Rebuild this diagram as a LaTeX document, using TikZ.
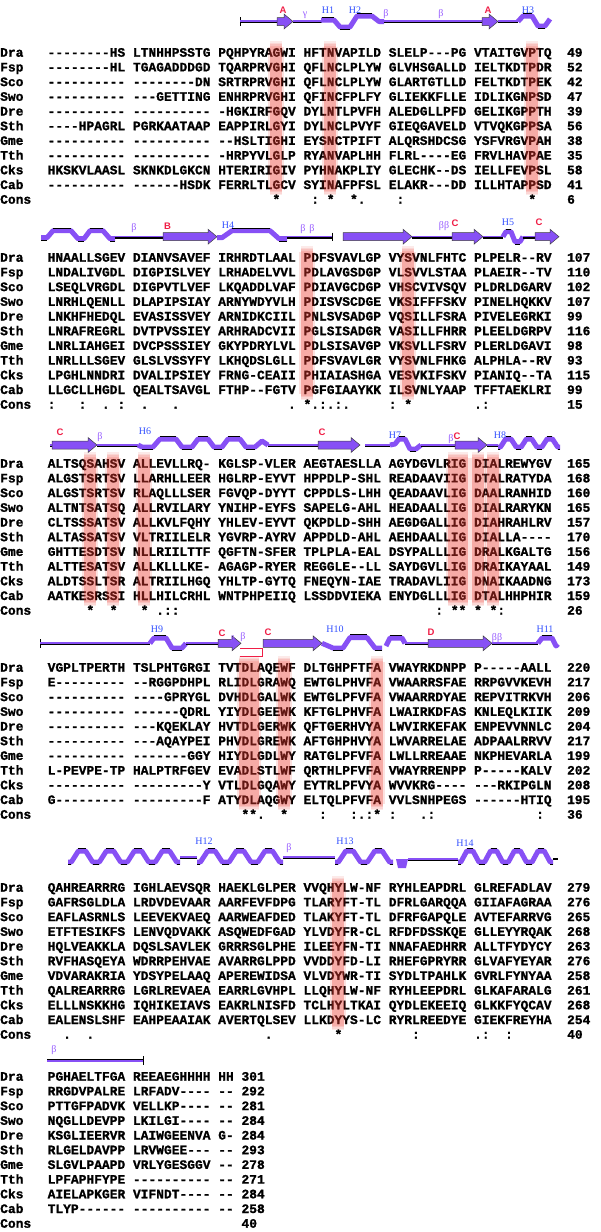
\documentclass[tikz,border=0pt]{standalone}
\usepackage{fontspec}
\setmonofont{Liberation Mono}[BoldFeatures={FakeBold=1.2}]
\newfontfamily\sslabfont{Liberation Sans}
\newfontfamily\ssserif{Liberation Serif}
\definecolor{ssc}{RGB}{135,80,245}
\definecolor{ssred}{RGB}{240,30,70}
\definecolor{ssblue}{RGB}{50,80,255}
\definecolor{sspur}{RGB}{150,90,255}
\definecolor{barc}{RGB}{235,55,45}
\newcommand\seqf{\ttfamily\bfseries\fontsize{12.92}{14}\selectfont}
\newcommand\Sp[1]{\kern#1\fontcharwd\font`\0\relax}
\tikzset{
 seq/.style={anchor=base west, inner sep=0pt, font=\seqf},
 lab/.style={anchor=base west, inner sep=0pt, font=\seqf},
 hx/.style={draw=ssc, line width=5pt, line join=round},
 redl/.style={text=ssred, font=\sslabfont\bfseries\fontsize{9.5}{10}\selectfont, inner sep=0pt},
 bluel/.style={text=ssblue, font=\ssserif\fontsize{10}{10}\selectfont, inner sep=0pt},
 purl/.style={text=sspur, font=\ssserif\fontsize{10}{10}\selectfont, inner sep=0pt},
}
\newcommand\SRow[4]{\node[lab] (l#1) at (0,{\Y+#3*14.7+3.7}) {#2};\node[seq] (s#1) at (47.5,{\Y+#3*14.7+3.7}) {#4};}
\newcommand\hlt[3]{\draw[black,line width=1pt] (#1,#3) -- (#2,#3);}
\newcommand\coil[3]{\draw[black,line width=2.6pt] (#1,#3+0.5) -- (#2,#3+0.5); \draw[ssc,line width=1.6pt] (#1,#3-0.3) -- (#2,#3-0.3);}
\newcommand\strand[3]{\filldraw[fill=ssc,draw=black!75,line width=0.5pt] (#1,#3-4) -- ({#2-9},#3-4) -- ({#2-9},#3-7.5) -- (#2,#3) -- ({#2-9},#3+7.5) -- ({#2-9},#3+4) -- (#1,#3+4) -- cycle;}
\newcommand\wave[5]{%
 \draw[hx] (#1,#4) \foreach \i in {1,...,#2}{ -- ++({0.12*#3},0) -- ++({0.25*#3},{-#5}) -- ++({0.26*#3},0) -- ++({0.25*#3},#5) -- ++({0.12*#3},0)};
 \foreach \i in {1,...,#2}{%
  \draw[black,line width=1.1pt] ({#1+(\i-1+0.37)*#3},{#4-#5-2.6}) -- ++({0.26*#3},0);
  \draw[black,line width=1.1pt] ({#1+(\i-1)*#3},{#4+2.6}) -- ++({0.12*#3},0);
  \draw[black,line width=1.1pt] ({#1+(\i-1+0.88)*#3},{#4+2.6}) -- ++({0.12*#3},0);}%
}
\newcommand\hlbar[3]{%
 \pgfmathsetmacro\xa{47.5+7.75*(11*#1+#2)-2.2}%
 \pgfmathsetmacro\xb{47.5+7.75*(11*#1+#2+#3)+2.2}%
 \pgfmathsetmacro\ya{\Y-12}%
 \pgfmathsetmacro\yb{\Y+9*14.7+10}%
 \fill[barc,opacity=0.42] (\xa,\ya+6) rectangle (\xb,\yb-6);
 \fill[barc,opacity=0.15] (\xa-2,\ya+6) rectangle (\xa,\yb-6);
 \fill[barc,opacity=0.15] (\xb,\ya+6) rectangle (\xb+2,\yb-6);
 \foreach \k in {1,2,3,4}{\pgfmathsetmacro\op{0.1*\k}%
  \fill[barc,opacity=\op] (\xa,{\ya+1.5*(\k-1)}) rectangle (\xb,{\ya+1.5*\k});
  \fill[barc,opacity=\op] (\xa,{\yb-1.5*(\k-1)}) rectangle (\xb,{\yb-1.5*\k});}%
}
\begin{document}
\begin{tikzpicture}[x=1pt,y=-1pt]
\fill[white] (0,0) rectangle (600,1232);
\useasboundingbox (0,0) rectangle (600,1232);
%================ BLOCK 1
\def\Y{53}
\SRow{b1a}{Dra}{0}{--------HS LTNHHPSSTG PQHPYRAGWI HFTNVAPILD SLELP---PG VTAITGVPTQ~~49}
\SRow{b1b}{Fsp}{1}{--------HL TGAGADDDGD TQARPRVGHI QFLNCLPLYW GLVHSGALLD IELTKDTPDR~~52}
\SRow{b1c}{Sco}{2}{---------- --------DN SRTRPRVGHI QFLNCLPLYW GLARTGTLLD FELTKDTPEK~~42}
\SRow{b1d}{Swo}{3}{---------- ---GETTING ENHRPRVGHI QFINCFPLFY GLIEKKFLLE IDLIKGNPSD~~47}
\SRow{b1e}{Dre}{4}{---------- ---------- -HGKIRFGQV DYLNTLPVFH ALEDGLLPFD GELIKGPPTH~~39}
\SRow{b1f}{Sth}{5}{----HPAGRL PGRKAATAAP EAPPIRLGYI DYLNCLPVYF GIEQGAVELD VTVQKGPPSA~~56}
\SRow{b1g}{Gme}{6}{---------- ---------- --HSLTIGHI EYSNCTPIFT ALQRSHDCSG YSFVRGVPAH~~38}
\SRow{b1h}{Tth}{7}{---------- ---------- -HRPYVLGLP RYANVAPLHH FLRL----EG FRVLHAVPAE~~35}
\SRow{b1i}{Cks}{8}{HKSKVLAASL SKNKDLGKCN HTERIRIGIV PYHNAKPLIY GLECHK--DS IELLFEVPSL~~58}
\SRow{b1j}{Cab}{9}{---------- ------HSDK FERRLTLGCV SYINAFPFSL ELAKR---DD ILLHTAPPSD~~41}
\SRow{b1k}{Cons}{10}{\Sp{29}*\Sp{4}:\Sp{1}*\Sp{2}*.\Sp{4}:\Sp{16}*\Sp{4}6}
\hlbar{2}{7}{1}\hlbar{3}{3}{1}\hlbar{5}{7}{1}
% SS block 1
\draw[black,line width=1pt] (240,17) -- (240,26);
\coil{240}{277}{21.5}
\strand{277}{293}{21.5}
\coil{293}{322}{21.5}
\draw[hx] (321,20) -- (334,20) -- (340,27) -- (350,27) -- (357,16) -- (372,16) -- (379,21.5) -- (384,21.5);
\hlt{322}{334}{17.4}\hlt{340}{350}{29.6}\hlt{357}{372}{13.4}
\coil{384}{482}{21.5}
\strand{482}{498}{21.5}
\coil{498}{518}{21.5}
\draw[hx] (518,21.5) -- (523,16) -- (532,16) -- (538,26) -- (545,26) -- (550,19);
\hlt{523}{532}{13.4}\hlt{538}{545}{28.6}
\node[redl] (t1) at (283,10) {A};
\node[purl] (t2) at (305,15) {γ};
\node[bluel] (t3) at (328,10) {H1};
\node[bluel] (t4) at (355,10) {H2};
\node[purl] (t5) at (386,14) {β};
\node[purl] (t6) at (441,14) {β};
\node[redl] (t7) at (488,10) {A};
\node[bluel] (t8) at (528,10) {H3};
%================ BLOCK 2
\def\Y{258}
\SRow{b2a}{Dra}{0}{HNAALLSGEV DIANVSAVEF IRHRDTLAAL PDFSVAVLGP VYSVNLFHTC PLPELR--RV~~107}
\SRow{b2b}{Fsp}{1}{LNDALIVGDL DIGPISLVEY LRHADELVVL PDLAVGSDGP VLSVVLSTAA PLAEIR--TV~~110}
\SRow{b2c}{Sco}{2}{LSEQLVRGDL DIGPVTLVEF LKQADDLVAF PDIAVGCDGP VHSCVIVSQV PLDRLDGARV~~102}
\SRow{b2d}{Swo}{3}{LNRHLQENLL DLAPIPSIAY ARNYWDYVLH PDISVSCDGE VKSIFFFSKV PINELHQKKV~~107}
\SRow{b2e}{Dre}{4}{LNKHFHEDQL EVASISSVEY ARNIDKCIIL PNLSVSADGP VQSILLFSRA PIVELEGRKI~~99}
\SRow{b2f}{Sth}{5}{LNRAFREGRL DVTPVSSIEY ARHRADCVII PGLSISADGR VASILLFHRR PLEELDGRPV~~116}
\SRow{b2g}{Gme}{6}{LNRLIAHGEI DVCPSSSIEY GKYPDRYLVL PDLSISAVGP VKSVLLFSRV PLERLDGAVI~~98}
\SRow{b2h}{Tth}{7}{LNRLLLSGEV GLSLVSSYFY LKHQDSLGLL PDFSVAVLGR VYSVNLFHKG ALPHLA--RV~~93}
\SRow{b2i}{Cks}{8}{LPGHLNNDRI DVALIPSIEY FRNG-CEAII PHIAIASHGA VESVKIFSKV PIANIQ--TA~~115}
\SRow{b2j}{Cab}{9}{LLGCLLHGDL QEALTSAVGL FTHP--FGTV PGFGIAAYKK ILSVNLYAAP TFFTAEKLRI~~99}
\SRow{b2k}{Cons}{10}{:\Sp{3}:\Sp{2}.\Sp{1}:\Sp{2}.\Sp{3}.\Sp{14}.\Sp{1}*.:.:.\Sp{5}:\Sp{1}*\Sp{8}.:\Sp{10}15}
\hlbar{3}{0}{1}\hlbar{4}{2}{1}
% SS block 2
\draw[hx] (41,237.7) -- (47,237.7) -- (53,230.7) -- (71,230.7) -- (78,238.7) -- (84,238.7) -- (90,230.7) -- (103,230.7) -- (110,238.7) -- (115,238.7);
\hlt{53}{71}{228.1}\hlt{90}{103}{228.1}\hlt{78}{84}{241.3}\hlt{41}{47}{240.3}\hlt{110}{115}{241.3}
\coil{115}{163}{236.7}
\strand{163}{217}{236.7}
\draw[hx] (217,237.7) -- (222,237.7) -- (232,230.7) -- (270,230.7) -- (279,238.7) -- (287,238.7);
\hlt{232}{270}{228.1}\hlt{279}{287}{241.3}
\coil{287}{332}{236.7}
\draw[black,line width=1pt] (332,232.7) -- (332,240.7);
\strand{343}{412}{236.7}
\coil{412}{452}{236.7}
\strand{452}{483}{236.7}
\coil{483}{503}{236.7}
\draw[hx] (503,236.7) -- (506,231.7) -- (511,231.7) -- (515,241.7) -- (520,241.7) -- (523,236.7);
\hlt{506}{511}{229.1}\hlt{515}{520}{244.3}
\coil{523}{535}{236.7}
\strand{535}{559}{236.7}
\node[purl] (t9) at (134,228) {β};
\node[redl] (t10) at (167.5,226.5) {B};
\node[bluel] (t11) at (228,225) {H4};
\node[purl] (t12) at (303,229) {β};
\node[purl] (t13) at (312,229) {β};
\node[purl] (t14) at (444,226) {ββ};
\node[redl] (t15) at (455,223) {C};
\node[bluel] (t16) at (508,222) {H5};
\node[redl] (t17) at (539,222) {C};
%================ BLOCK 3
\def\Y{464}
\SRow{b3a}{Dra}{0}{ALTSQSAHSV ALLEVLLRQ- KGLSP-VLER AEGTAESLLA AGYDGVLRIG DIALREWYGV~~165}
\SRow{b3b}{Fsp}{1}{ALGSTSRTSV LLARHLLEER HGLRP-EYVT HPPDLP-SHL READAAVIIG DTALRATYDA~~168}
\SRow{b3c}{Sco}{2}{ALGSTSRTSV RLAQLLLSER FGVQP-DYYT CPPDLS-LHH QEADAAVLIG DAALRANHID~~160}
\SRow{b3d}{Swo}{3}{ALTNTSATSQ ALLRVILARY YNIHP-EYFS SAPELG-AHL HEADAALLIG DIALRARYKN~~165}
\SRow{b3e}{Dre}{4}{CLTSSSATSV ALLKVLFQHY YHLEV-EYVT QKPDLD-SHH AEGDGALLIG DIAHRAHLRV~~157}
\SRow{b3f}{Sth}{5}{ALTASSATSV VLTRIILELR YGVRP-AYRV APPDLD-AHL AEHDAALLIG DIALLA----~~170}
\SRow{b3g}{Gme}{6}{GHTTESDTSV NLLRIILTTF QGFTN-SFER TPLPLA-EAL DSYPALLLIG DRALKGALTG~~156}
\SRow{b3h}{Tth}{7}{ALTTESATSV ALLKLLLKE- AGAGP-RYER REGGLE--LL SAYDGVLLIG DRAIKAYAAL~~149}
\SRow{b3i}{Cks}{8}{ALDTSSLTSR ALTRIILHGQ YHLTP-GYTQ FNEQYN-IAE TRADAVLIIG DNAIKAADNG~~173}
\SRow{b3j}{Cab}{9}{AATKESRSSI HLLHILCRHL WNTPHPEIIQ LSSDDVIEKA ENYDGLLLIG DTALHHPHIR~~159}
\SRow{b3k}{Cons}{10}{\Sp{5}*\Sp{2}*\Sp{3}*\Sp{1}.::\Sp{33}:\Sp{1}**\Sp{1}*\Sp{1}*:\Sp{8}26}
\hlbar{0}{5}{1}\hlbar{0}{8}{1}\hlbar{1}{1}{1}\hlbar{4}{8}{2}\hlbar{5}{0}{1}\hlbar{5}{2}{1}
% SS block 3
\coil{50}{60}{445}
\strand{52}{97}{445}
\coil{97}{138}{445}
\draw[hx] (138,445) -- (142,447) -- (153,447) -- (160,439) -- (176,439) -- (182,447) -- (192,447) -- (198,439) -- (208,439) -- (214,447) -- (222,447) -- (228,439) -- (240,439) -- (246,447) -- (255,447) -- (262,441) -- (268,445);
\hlt{160}{176}{436.4}\hlt{198}{208}{436.4}\hlt{228}{240}{436.4}
\hlt{142}{153}{449.6}\hlt{182}{192}{449.6}\hlt{214}{222}{449.6}\hlt{246}{255}{449.6}
\coil{268}{318}{445}
\strand{318}{360}{445}
\coil{365}{390}{445}
\draw[hx] (390,445) -- (395,444) -- (399,439) -- (405,439) -- (410,449) -- (416,449) -- (421,445);
\hlt{399}{405}{436.4}\hlt{410}{416}{451.6}
\coil{421}{455}{445}
\strand{455}{487}{445}
\coil{487}{498}{445}
\wave{498}{3}{20.7}{447}{8}
\node[redl] (t18) at (60,432) {C};
\node[purl] (t19) at (100,437) {β};
\node[bluel] (t20) at (145,431) {H6};
\node[redl] (t21) at (322,432) {C};
\node[bluel] (t22) at (395,435) {H7};
\node[purl] (t23) at (451,439) {β};
\node[redl] (t24) at (457,436) {C};
\node[bluel] (t25) at (500,435) {H8};
%================ BLOCK 4
\def\Y{668}
\SRow{b4a}{Dra}{0}{VGPLTPERTH TSLPHTGRGI TVTDLAQEWF DLTGHPFTFA VWAYRKDNPP P-----AALL~~220}
\SRow{b4b}{Fsp}{1}{E--------- --RGGPDHPL RLIDLGRAWQ EWTGLPHVFA VWAARRSFAE RRPGVVKEVH~~217}
\SRow{b4c}{Sco}{2}{---------- ----GPRYGL DVHDLGALWK EWTGLPFVFA VWAARRDYAE REPVITRKVH~~206}
\SRow{b4d}{Swo}{3}{---------- ------QDRL YIYDLGEEWK KFTGLPHVFA LWAIRKDFAS KNLEQLKIIK~~209}
\SRow{b4e}{Dre}{4}{---------- ---KQEKLAY HVTDLGERWK QFTGERHVYA LWVIRKEFAK ENPEVVNNLC~~204}
\SRow{b4f}{Sth}{5}{---------- ---AQAYPEI PHVDLGREWK AFTGHPHVYA LWVARRELAE ADPAALRRVV~~217}
\SRow{b4g}{Gme}{6}{---------- -------GGY HIYDLGDLWY RATGLPFVFA LWLLRREAAE NKPHEVARLA~~199}
\SRow{b4h}{Tth}{7}{L-PEVPE-TP HALPTRFGEV EVADLSTLWF QRTHLPFVFA VWAYRRENPP P-----KALV~~202}
\SRow{b4i}{Cks}{8}{---------- ---------Y VTLDLGQAWY EYTRLPFVYA WVVKRG---- ---RKIPGLN~~208}
\SRow{b4j}{Cab}{9}{G--------- ---------F ATYDLAQGWY ELTQLPFVFA VVLSNHPEGS ------HTIQ~~195}
\SRow{b4k}{Cons}{10}{\Sp{25}**.\Sp{2}*\Sp{4}:\Sp{3}:.:*\Sp{1}:\Sp{3}.:\Sp{13}:\Sp{3}36}
\hlbar{2}{3}{2}\hlbar{2}{8}{1}\hlbar{3}{9}{1}
% SS block 4
\draw[black,line width=1pt] (40,639) -- (40,648);
\coil{40}{150}{643.3}
\draw[hx] (150,643.3) -- (154,638) -- (166,638) -- (172,648) -- (182,648) -- (186,643.3);
\hlt{154}{166}{635.4}\hlt{172}{182}{650.6}
\coil{186}{218}{643.3}
\strand{218}{241}{643.3}
\draw[ssred,line width=1pt] (240,648.5) -- (262.5,648.5) -- (262.5,656.5) -- (240,656.5);
\strand{263}{322}{643.3}
\draw[hx] (322,643.3) -- (333,648) -- (343,648) -- (350,637.5) -- (367,637.5) -- (375,648) -- (382,648);
\hlt{350}{367}{634.9}\hlt{333}{343}{650.6}\hlt{375}{382}{650.6}
\draw[hx] (386,646) -- (390,638) -- (402,638) -- (405,643.3);
\hlt{390}{402}{635.4}
\coil{405}{428}{643.3}
\strand{428}{492}{643.3}
\coil{492}{538}{643.3}
\draw[hx] (538,643.3) -- (542,638) -- (552,638) -- (556,646) -- (558,644);
\hlt{542}{552}{635.4}
\node[bluel] (t26) at (157,629) {H9};
\node[redl] (t27) at (222,633) {C};
\node[purl,font=\ssserif\fontsize{7}{7}\selectfont] (t28) at (233,639) {β};
\node[purl] (t29) at (243,637) {β};
\node[redl] (t30) at (268,632) {C};
\node[bluel] (t31) at (335,629) {H10};
\node[redl] (t32) at (431,632) {D};
\node[purl] (t33) at (497,638) {ββ};
\node[bluel] (t34) at (545,629) {H11};
%================ BLOCK 5
\def\Y{888}
\SRow{b5a}{Dra}{0}{QAHREARRRG IGHLAEVSQR HAEKLGLPER VVQHYLW-NF RYHLEAPDRL GLREFADLAV~~279}
\SRow{b5b}{Fsp}{1}{GAFRSGLDLA LRDVDEVAAR AARFEVFDPG TLARYFT-TL DFRLGARQQA GIIAFAGRAA~~276}
\SRow{b5c}{Sco}{2}{EAFLASRNLS LEEVEKVAEQ AARWEAFDED TLAKYFT-TL DFRFGAPQLE AVTEFARRVG~~265}
\SRow{b5d}{Swo}{3}{ETFTESIKFS LENVQDVAKK ASQWEDFGAD YLVDYFR-CL RFDFDSSKQE GLLEYYRQAK~~268}
\SRow{b5e}{Dre}{4}{HQLVEAKKLA DQSLSAVLEK GRRRSGLPHE ILEEYFN-TI NNAFAEDHRR ALLTFYDYCY~~263}
\SRow{b5f}{Sth}{5}{RVFHASQEYA WDRRPEHVAE AVARRGLPPD VVDDYFD-LI RHEFGPRYRR GLVAFYEYAR~~276}
\SRow{b5g}{Gme}{6}{VDVARAKRIA YDSYPELAAQ APEREWIDSA VLVDYWR-TI SYDLTPAHLK GVRLFYNYAA~~258}
\SRow{b5h}{Tth}{7}{QALREARRRG LGRLREVAEA EARRLGVHPL LLQHYLW-NF RYHLEEPDRL GLKAFARALG~~261}
\SRow{b5i}{Cks}{8}{ELLLNSKKHG IQHIKEIAVS EAKRLNISFD TCLHYLTKAI QYDLEKEEIQ GLKKFYQCAV~~268}
\SRow{b5j}{Cab}{9}{EALENSLSHF EAHPEAAIAK AVERTQLSEV LLKDYYS-LC RYRLREEDYE GIEKFREYHA~~254}
\SRow{b5k}{Cons}{10}{\Sp{2}.\Sp{2}.\Sp{22}.\Sp{8}*\Sp{9}:\Sp{7}.:\Sp{2}:\Sp{7}40}
\hlbar{3}{4}{1}
% SS block 5
\wave{68}{4}{28}{862}{11}
\coil{180}{197}{857}
\wave{197}{3}{28.7}{862}{11}
\coil{283}{335}{857}
\wave{335}{2}{29}{862}{11}
\fill[ssc] (396,859) -- (408,859) -- (406,868) -- (398,868) -- cycle;
\coil{408}{458}{859}
\wave{458}{4}{23.75}{862}{11}
\draw[black,line width=2pt] (553,859) -- (558,859);
\node[bluel] (t35) at (204,841) {H12};
\node[purl] (t36) at (289,848) {β};
\node[bluel] (t37) at (345,841) {H13};
\node[bluel] (t38) at (465,843) {H14};
%================ BLOCK 6
\def\Y{1077}
\SRow{b6a}{Dra}{0}{PGHAELTFGA REEAEGHHHH HH 301}
\SRow{b6b}{Fsp}{1}{RRGDVPALRE LRFADV---- -- 292}
\SRow{b6c}{Sco}{2}{PTTGFPADVK VELLKP---- -- 281}
\SRow{b6d}{Swo}{3}{NQGLLDEVPP LKILGI---- -- 284}
\SRow{b6e}{Dre}{4}{KSGLIEERVR LAIWGEENVA G- 284}
\SRow{b6f}{Sth}{5}{RLGELDAVPP LRVWGEE--- -- 293}
\SRow{b6g}{Gme}{6}{SLGVLPAAPD VRLYGESGGV -- 278}
\SRow{b6h}{Tth}{7}{LPFAPHFYPE ---------- -- 271}
\SRow{b6i}{Cks}{8}{AIELAPKGER VIFNDT---- -- 284}
\SRow{b6j}{Cab}{9}{TLYP------ ---------- -- 258}
\SRow{b6k}{Cons}{10}{\Sp{25}40}
\draw[black,line width=3.2pt] (47,1060.7) -- (143,1060.7);
\draw[ssc,line width=1.6pt] (47,1060.7) -- (143,1060.7);
\draw[black,line width=1pt] (143,1056) -- (143,1065);
\node[purl] (t39) at (54,1050) {β};
\end{tikzpicture}
\end{document}
